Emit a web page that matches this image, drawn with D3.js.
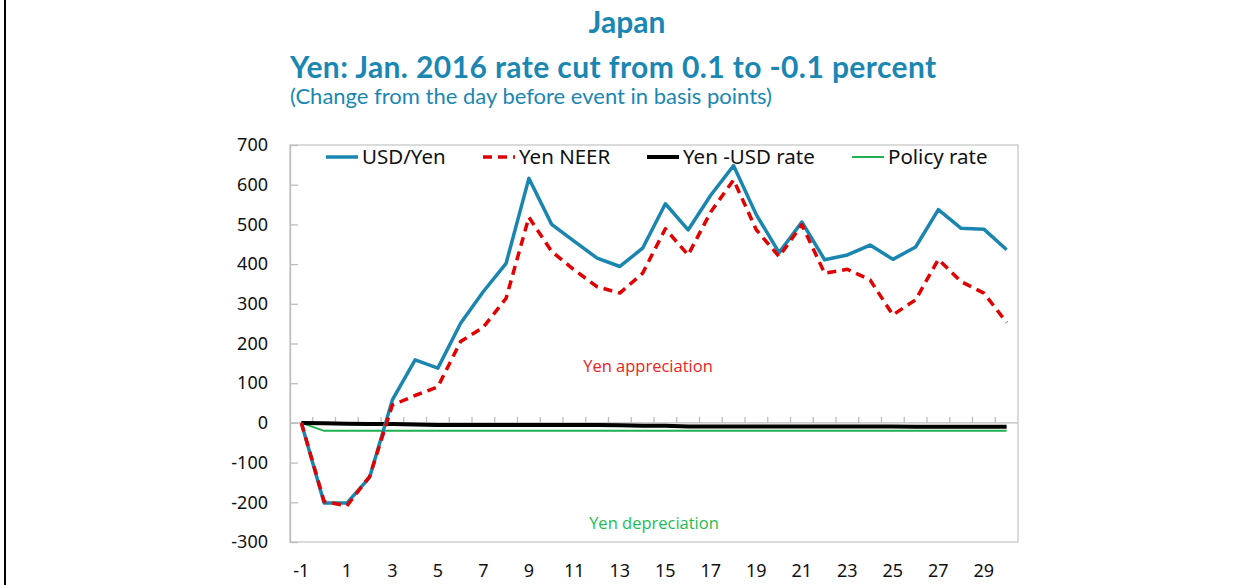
<!DOCTYPE html>
<html>
<head>
<meta charset="utf-8">
<script src="https://cdn.jsdelivr.net/npm/d3@7"></script>
<style>
  body { margin: 0; background: #fff; }
  svg { display: block; }
</style>
</head>
<body>
<svg width="1249" height="585"></svg>
<script>
// days relative to event, -1 .. 30
const days = d3.range(-1, 31);

// change from the day before event, basis points
const usdYen = [0, -202, -202, -137, 58, 159, 138, 251, 331, 402, 616, 500, 457, 415, 394, 440,
  552, 486, 574, 648, 524, 429, 506, 411, 423, 448, 412, 443, 537, 490, 488, 436];
const yenNeer = [0, -198, -209, -135, 45, 69, 91, 205, 241, 314, 518, 432, 385, 343, 327, 377,
  489, 423, 532, 612, 486, 419, 499, 377, 387, 360, 272, 310, 412, 356, 327, 253];
const yenUsdRate = [0, -1, -2, -3, -3, -4, -5, -5, -5, -5, -5, -5, -5, -5, -6, -7,
  -7, -9, -9, -9, -9, -9, -9, -9, -9, -9, -9, -10, -10, -10, -10, -10];
const policyRate = [0, -20, -20, -20, -20, -20, -20, -20, -20, -20, -20, -20, -20, -20, -20, -20,
  -20, -20, -20, -20, -20, -20, -20, -20, -20, -20, -20, -20, -20, -20, -20, -20];

const yTicks = [-300, -200, -100, 0, 100, 200, 300, 400, 500, 600, 700];
const seriesNames = ['USD/Yen', 'Yen NEER', 'Yen -USD rate', 'Policy rate'];

const svg = d3.select('svg');
const margin = {top: 145, right: 231, bottom: 43, left: 290};
const width = 1249 - margin.left - margin.right;
const height = 585 - margin.top - margin.bottom;

// frame line on the left edge
svg.append('line')
  .attr('x1', 5).attr('x2', 5).attr('y1', 0).attr('y2', 585)
  .attr('stroke', '#000').attr('stroke-width', 2);

// titles
const titleColor = '#1a87b2';
svg.append('text')
  .attr('x', 627).attr('y', 33)
  .attr('text-anchor', 'middle')
  .attr('font-family', 'Lato, sans-serif').attr('font-weight', 'bold')
  .attr('font-size', 30).attr('fill', titleColor)
  .text('Japan');
svg.append('text')
  .attr('x', 290).attr('y', 78)
  .attr('font-family', 'Lato, sans-serif').attr('font-weight', 'bold')
  .attr('font-size', 30).attr('letter-spacing', 0.4).attr('fill', titleColor)
  .text('Yen: Jan. 2016 rate cut from 0.1 to -0.1 percent');
svg.append('text')
  .attr('x', 290).attr('y', 104)
  .attr('font-family', 'Lato, sans-serif')
  .attr('font-size', 22).attr('fill', titleColor)
  .text('(Change from the day before event in basis points)');

const g = svg.append('g')
  .attr('transform', `translate(${margin.left},${margin.top})`);

const x = d3.scaleBand()
  .domain(days)
  .range([0, width]);

const y = d3.scaleLinear()
  .domain([-300, 700])
  .range([height, 0]);

const cx = d => x(d) + x.bandwidth() / 2;

// plot area border
g.append('rect')
  .attr('width', width).attr('height', height)
  .attr('fill', 'none').attr('stroke', '#c8c8c8').attr('stroke-width', 1.3);

// y axis, ticks inside
const yAxis = g.append('g')
  .call(d3.axisLeft(y).tickValues(yTicks).tickFormat(d => String(d))
    .tickSizeInner(-8).tickSizeOuter(0).tickPadding(22));
yAxis.select('.domain').attr('stroke', '#bdbdbd').attr('stroke-width', 1.3);
yAxis.selectAll('.tick line').attr('stroke', '#bdbdbd').attr('stroke-width', 1.3);
yAxis.selectAll('.tick text')
  .attr('font-family', '"Noto Sans", sans-serif').attr('font-size', 18).attr('fill', '#111');

// zero line with category ticks pointing up
g.append('line')
  .attr('x1', 0).attr('x2', width).attr('y1', y(0)).attr('y2', y(0))
  .attr('stroke', '#bdbdbd').attr('stroke-width', 1.3);
g.selectAll('.cat-tick')
  .data(days.slice(1))
  .enter().append('line')
    .attr('x1', d => x(d)).attr('x2', d => x(d))
    .attr('y1', y(0)).attr('y2', y(0) - 6)
    .attr('stroke', '#bdbdbd').attr('stroke-width', 1.3);

// x labels, every other day
g.selectAll('.xlabel')
  .data(days.filter(d => (d + 1) % 2 === 0 && d < 30))
  .enter().append('text')
    .attr('x', d => cx(d))
    .attr('y', height + 35)
    .attr('text-anchor', 'middle')
    .attr('font-family', '"Noto Sans", sans-serif').attr('font-size', 18).attr('fill', '#111')
    .text(d => String(d));

// annotations
g.append('text')
  .attr('x', 358).attr('y', 227)
  .attr('text-anchor', 'middle')
  .attr('font-family', '"Open Sans", sans-serif').attr('font-size', 16.5).attr('fill', '#ee2222')
  .text('Yen appreciation');
g.append('text')
  .attr('x', 364).attr('y', 384)
  .attr('text-anchor', 'middle')
  .attr('font-family', '"Open Sans", sans-serif').attr('font-size', 16.5).attr('fill', '#1fbb55')
  .text('Yen depreciation');

const styles = [
  {values: usdYen, color: '#1a86b0', width: 3.5, dash: null},
  {values: yenNeer, color: '#e00000', width: 3.5, dash: '9,6'},
  {values: yenUsdRate, color: '#000', width: 4, dash: null},
  {values: policyRate, color: '#1fb050', width: 2, dash: null}
];

const line = d3.line()
  .x((d, i) => cx(days[i]))
  .y(d => y(d));

// draw policy, then yen-usd, then neer over usd/yen as in reference
[3, 2, 0, 1].forEach(k => {
  const s = styles[k];
  g.append('path')
    .datum(s.values)
    .attr('fill', 'none')
    .attr('stroke', s.color)
    .attr('stroke-width', s.width)
    .attr('stroke-dasharray', s.dash)
    .attr('stroke-linejoin', 'round')
    .attr('d', line);
});

// legend
const legendX = [36, 193, 357, 562];
const legend = g.selectAll('.legend')
  .data(seriesNames)
  .enter().append('g')
    .attr('transform', (d, i) => `translate(${legendX[i]},12)`);
legend.append('line')
  .attr('x1', 0).attr('x2', 32)
  .attr('stroke', (d, i) => styles[i].color)
  .attr('stroke-width', (d, i) => styles[i].width)
  .attr('stroke-dasharray', (d, i) => styles[i].dash);
legend.append('text')
  .attr('x', 36).attr('y', 7)
  .attr('font-family', '"Noto Sans", sans-serif').attr('font-size', 20.5).attr('fill', '#111')
  .text(d => d);
</script>
</body>
</html>
